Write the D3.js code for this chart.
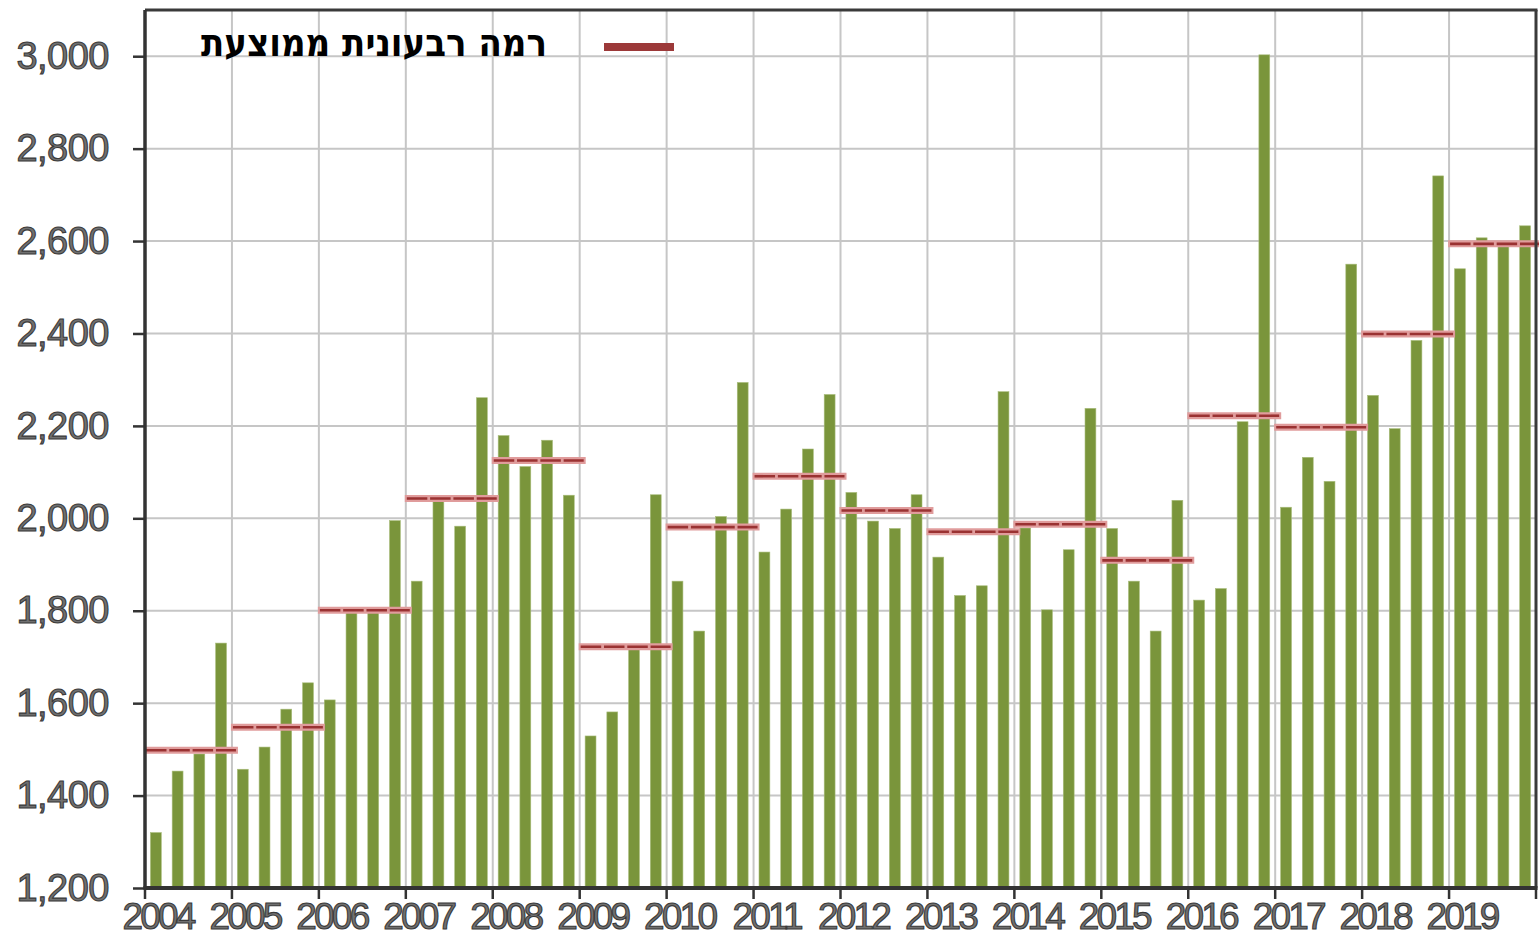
<!DOCTYPE html>
<html>
<head>
<meta charset="utf-8">
<script src="https://cdn.jsdelivr.net/npm/d3@7"></script>
<style>
  html, body { margin: 0; padding: 0; background: #fff; }
  svg { display: block; }
</style>
</head>
<body>
<svg id="chart" width="1539" height="936"></svg>
<script>
// ---- Data ----
const years = [2004, 2005, 2006, 2007, 2008, 2009, 2010, 2011, 2012, 2013, 2014, 2015, 2016, 2017, 2018, 2019];
const quarters = ["Q1", "Q2", "Q3", "Q4"];
// quarterly values, 4 per year, in year order
const quarterlyValues = [
  1320, 1453, 1490, 1730,   // 2004
  1457, 1505, 1587, 1644,   // 2005
  1607, 1796, 1805, 1995,   // 2006
  1864, 2039, 1983, 2261,   // 2007
  2179, 2112, 2169, 2050,   // 2008
  1529, 1581, 1718, 2051,   // 2009
  1864, 1756, 2004, 2294,   // 2010
  1927, 2020, 2150, 2268,   // 2011
  2056, 1994, 1978, 2051,   // 2012
  1916, 1833, 1854, 2274,   // 2013
  1979, 1802, 1932, 2238,   // 2014
  1978, 1864, 1756, 2039,   // 2015
  1823, 1848, 2209, 3003,   // 2016
  2024, 2132, 2080, 2550,   // 2017
  2266, 2194, 2385, 2741,   // 2018
  2540, 2607, 2596, 2633    // 2019
];
// average quarterly level per year
const yearlyAverage = [1498, 1548, 1801, 2043, 2125, 1722, 1981, 2091, 2017, 1971, 1987, 1909, 2222, 2197, 2399, 2594];
const yTicks = [1200, 1400, 1600, 1800, 2000, 2200, 2400, 2600, 2800, 3000];
const legendLabel = "רמה רבעונית ממוצעת";

// ---- Layout ----
const X0 = 145, X1 = 1536, Y0 = 10, Y1 = 888;
const svg = d3.select("#chart");

const keys = [];
years.forEach(y => quarters.forEach(q => keys.push(y + "-" + q)));
const bars = keys.map((k, i) => ({ key: k, value: quarterlyValues[i] }));

const x = d3.scaleBand().domain(keys).range([X0, X1]).paddingInner(0.5).paddingOuter(0.25);
const xYear = d3.scaleBand().domain(years).range([X0, X1]).padding(0);
const y = d3.scaleLinear().domain([1200, 3100]).range([Y1, Y0]);

// gridlines
const grid = svg.append("g");
grid.selectAll("line.h").data(yTicks.concat([3100])).join("line")
  .attr("x1", X0).attr("x2", X1)
  .attr("y1", d => y(d)).attr("y2", d => y(d))
  .attr("stroke", "#c6c6c6").attr("stroke-width", 2);
grid.selectAll("line.v").data(years.slice(1)).join("line")
  .attr("x1", d => xYear(d)).attr("x2", d => xYear(d))
  .attr("y1", Y0).attr("y2", Y1)
  .attr("stroke", "#c6c6c6").attr("stroke-width", 2);

// bars
svg.append("g").selectAll("rect").data(bars).join("rect")
  .attr("x", d => x(d.key))
  .attr("width", x.bandwidth())
  .attr("y", d => y(d.value))
  .attr("height", d => Y1 - y(d.value))
  .attr("fill", "#7a953b")
  .attr("stroke", "#a9bd7c")
  .attr("stroke-width", 0.6);

// yearly average lines
const avgData = years.map((yr, i) => ({ year: yr, value: yearlyAverage[i] }));
const avgG = svg.append("g");
avgG.selectAll("line.glow").data(avgData).join("line")
  .attr("x1", d => xYear(d.year) - 1)
  .attr("x2", d => xYear(d.year) + xYear.bandwidth() + 6)
  .attr("y1", d => y(d.value)).attr("y2", d => y(d.value))
  .attr("stroke", "#e09c9c").attr("stroke-width", 7);
avgG.selectAll("line.core").data(avgData).join("line")
  .attr("x1", d => xYear(d.year) + 1)
  .attr("x2", d => xYear(d.year) + xYear.bandwidth() + 4)
  .attr("y1", d => y(d.value)).attr("y2", d => y(d.value))
  .attr("stroke", "#9a3232").attr("stroke-width", 2.6)
  .attr("stroke-dasharray", "20.5,2.8");

// frame (top and right)
svg.append("line").attr("x1", X0).attr("x2", X1 + 1.5).attr("y1", Y0).attr("y2", Y0)
  .attr("stroke", "#3a3a3a").attr("stroke-width", 3);
svg.append("line").attr("x1", X1).attr("x2", X1).attr("y1", Y0).attr("y2", Y1)
  .attr("stroke", "#3a3a3a").attr("stroke-width", 3);

// y axis
const yAxis = svg.append("g").attr("transform", `translate(${X0},0)`)
  .call(d3.axisLeft(y).tickValues(yTicks).tickSize(12).tickPadding(24)
    .tickFormat(d3.format(",")));
yAxis.select(".domain").attr("stroke", "#333").attr("stroke-width", 3.5)
  .attr("d", `M0,${Y0}V${Y1}`);
yAxis.selectAll(".tick line").attr("stroke", "#333").attr("stroke-width", 2.5);
yAxis.selectAll(".tick text")
  .attr("font-family", "Liberation Sans, Arial, sans-serif")
  .attr("font-size", 38)
  .attr("letter-spacing", -0.5)
  .attr("fill", "#707070")
  .attr("stroke", "#3a3a3a")
  .attr("stroke-width", 1.1);

// x axis (years at year boundaries)
const xAxis = svg.append("g").attr("transform", `translate(0,${Y1})`);
xAxis.append("line").attr("x1", X0 - 1.5).attr("x2", X1 + 1.5).attr("y1", 0).attr("y2", 0)
  .attr("stroke", "#333").attr("stroke-width", 4);
xAxis.selectAll("line.tk").data(years.concat(["end"])).join("line")
  .attr("x1", d => d === "end" ? X1 : xYear(d))
  .attr("x2", d => d === "end" ? X1 : xYear(d))
  .attr("y1", 0).attr("y2", 11)
  .attr("stroke", "#333").attr("stroke-width", 2.5);
xAxis.selectAll("text").data(years).join("text")
  .attr("x", d => xYear(d) + 13)
  .attr("y", 41)
  .attr("text-anchor", "middle")
  .attr("font-family", "Liberation Sans, Arial, sans-serif")
  .attr("font-size", 37)
  .attr("letter-spacing", -2.8)
  .attr("fill", "#707070")
  .attr("stroke", "#3a3a3a")
  .attr("stroke-width", 1.1)
  .text(d => d);

// legend
const legend = svg.append("g");
legend.append("text")
  .attr("x", 547).attr("y", 56)
  .attr("text-anchor", "end")
  .attr("font-family", "DejaVu Sans, Liberation Sans, Arial, sans-serif")
  .attr("font-weight", "bold")
  .attr("font-size", 38)
  .attr("textLength", 346)
  .attr("lengthAdjust", "spacingAndGlyphs")
  .attr("fill", "#000")
  .text(legendLabel);
legend.append("line")
  .attr("x1", 604).attr("x2", 674).attr("y1", 47).attr("y2", 47)
  .attr("stroke", "#9c3939").attr("stroke-width", 8);
</script>
</body>
</html>
